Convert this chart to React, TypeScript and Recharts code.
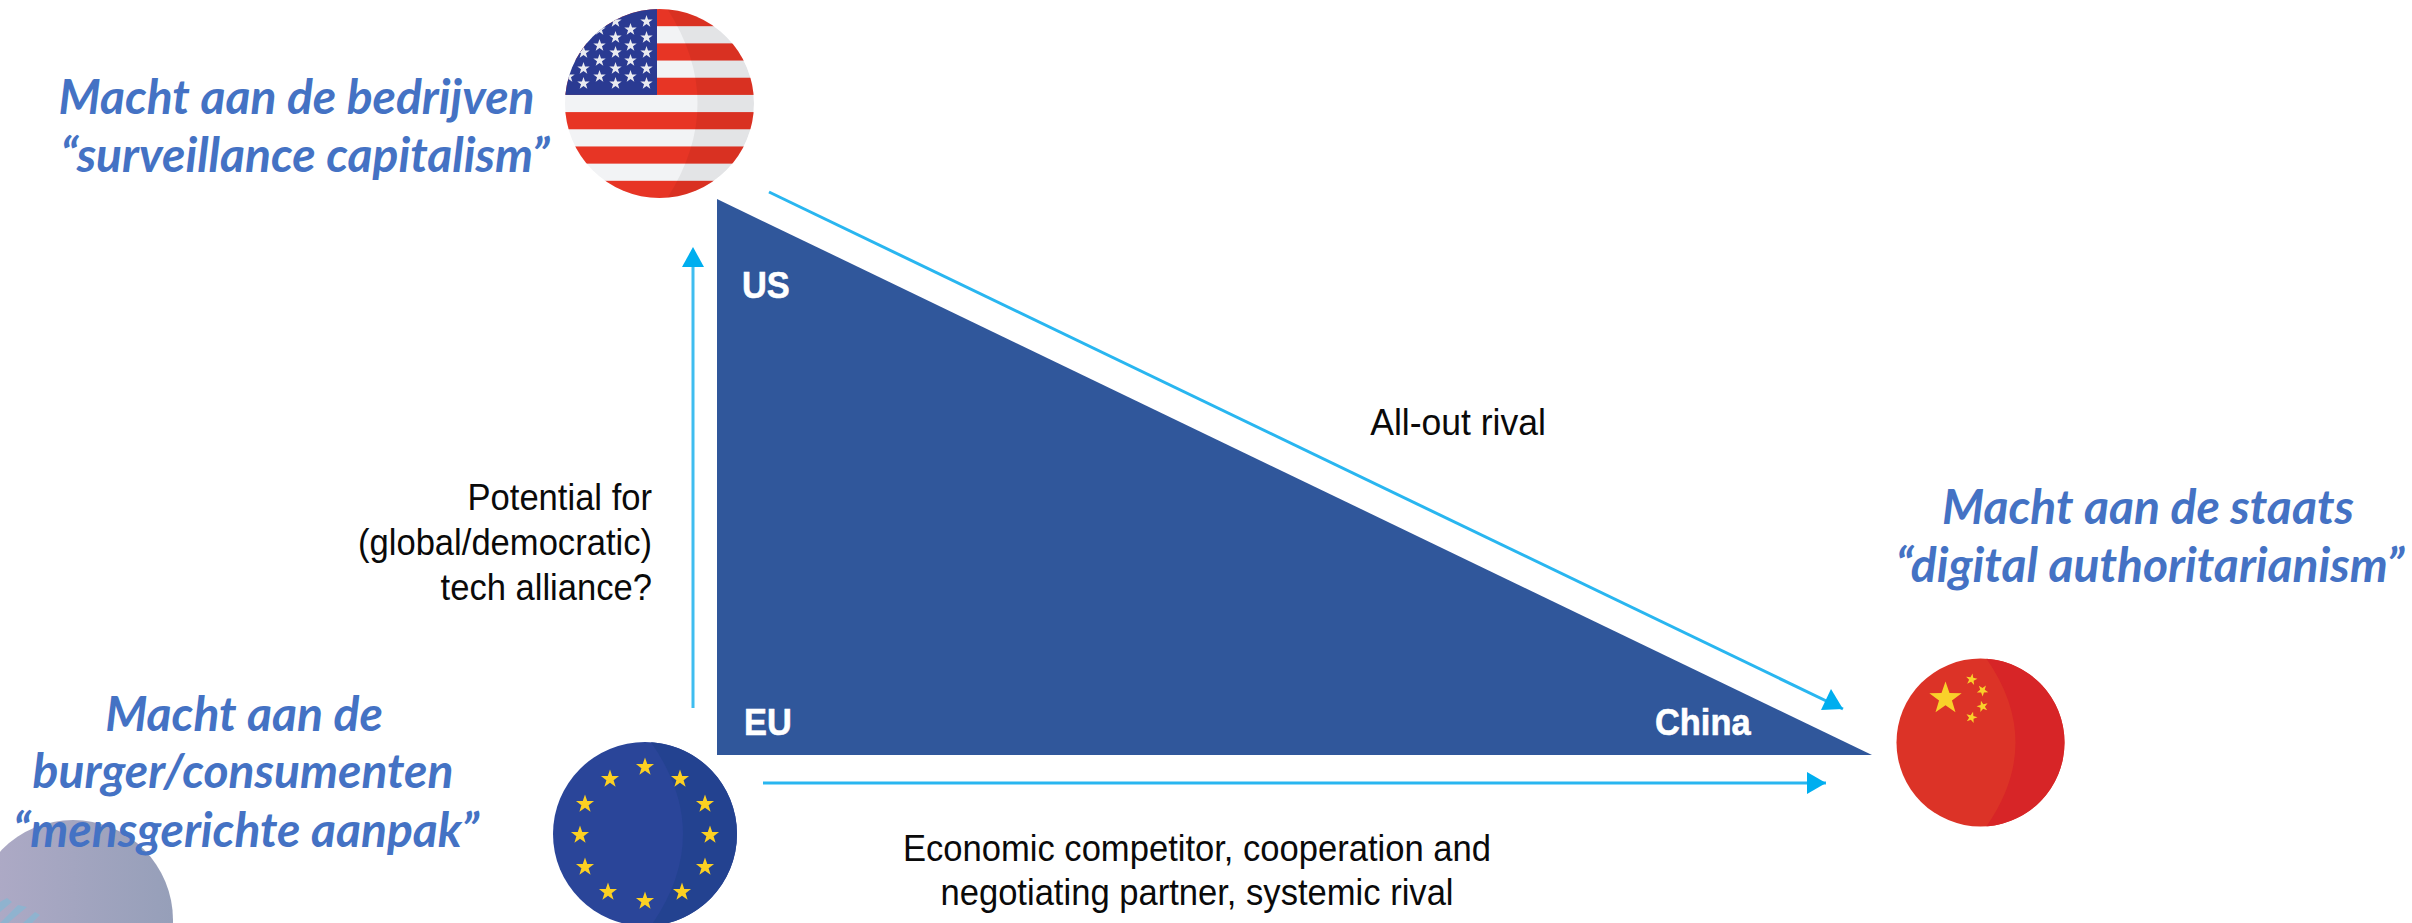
import { ComposedChart, Area, Line, Scatter, XAxis, YAxis } from 'recharts';

const WIDTH = 2412;
const HEIGHT = 923;

// the picture has no real axes, so both scales just run over the picture itself
const triangle = [
  { x: 717, edge: [199, 755] },
  { x: 1872, edge: [755, 755] },
];

const arrowUp = [{ x: 693, y: 708 }, { x: 693, y: 250 }];
const arrowDiagonal = [{ x: 769, y: 192 }, { x: 1843, y: 709 }];
const arrowRight = [{ x: 763, y: 783 }, { x: 1826, y: 783 }];

const usFlag = [{ x: 659.5, y: 103.5 }];
const euFlag = [{ x: 645, y: 834 }];
const cnFlag = [{ x: 1980.5, y: 742.5 }];
const blob = [{ x: 73, y: 920 }];

const blueLabels = [
  { x: 296.5, y: 114, text: 'Macht aan de bedrijven' },
  { x: 305, y: 172, text: '“surveillance capitalism”' },
  { x: 244, y: 731, text: 'Macht aan de' },
  { x: 243, y: 788, text: 'burger/consumenten' },
  { x: 246, y: 847, text: '“mensgerichte aanpak”' },
  { x: 2148, y: 524, text: 'Macht aan de staats' },
  { x: 2150, y: 582, text: '“digital authoritarianism”' },
];

const rivalLabel = [{ x: 1458, y: 435, text: 'All-out rival' }];

const allianceLabels = [
  { x: 652, y: 510, text: 'Potential for' },
  { x: 652, y: 555, text: '(global/democratic)' },
  { x: 652, y: 600, text: 'tech alliance?' },
];

const competitorLabels = [
  { x: 1197, y: 861, text: 'Economic competitor, cooperation and' },
  { x: 1197, y: 905, text: 'negotiating partner, systemic rival' },
];

const whiteLabels = [
  { x: 742, y: 298, text: 'US' },
  { x: 744, y: 735, text: 'EU' },
  { x: 1655, y: 735, text: 'China' },
];

const euStars = [
  [0, -67], [35, -55], [60, -30], [65, 1], [60, 33], [37, 58],
  [0, 67], [-37, 58], [-60, 33], [-65, 1], [-60, -30], [-35, -55],
];
const cnSmallStars = [
  [-9, -63, 10], [2, -52, 35], [2, -36, -15], [-9, -25, 15],
];
const usStarRows = [
  [-82, [-13, -44]],
  [-74, [-29, -60]],
  [-66, [-13, -44]],
  [-58, [-29, -60]],
  [-51, [-13, -44, -76]],
  [-43, [-29, -60]],
  [-35, [-13, -44, -76]],
  [-27, [-29, -60, -91]],
  [-20, [-13, -44, -76]],
] as [number, number[]][];
const usStripes = [0, 2, 4, 6, 8, 10];

function starPath(cx: number, cy: number, r: number, rot = 0) {
  let d = '';
  for (let i = 0; i < 10; i++) {
    const rad = i % 2 === 0 ? r : r * 0.4;
    const a = ((-90 + rot + i * 36) * Math.PI) / 180;
    d += `${i === 0 ? 'M' : 'L'}${cx + rad * Math.cos(a)} ${cy + rad * Math.sin(a)}`;
  }
  return d + 'Z';
}

// darker crescent on the right of each globe
function shadePath(cx: number, cy: number, r: number, top: number, bulge: number) {
  const startX = cx + top;
  const dy = Math.sqrt(r * r - top * top);
  const ctrl = cx + bulge * 2 - top;
  return `M${startX} ${cy - dy}Q${ctrl} ${cy} ${startX} ${cy + dy}A${r} ${r} 0 0 0 ${startX} ${cy - dy}Z`;
}

function UsFlag({ cx, cy }: any) {
  const r = 94.5;
  const stripe = (2 * r) / 11;
  const top = cy - r;
  return (
    <g>
      <clipPath id="usClip"><circle cx={cx} cy={cy} r={r} /></clipPath>
      <g clipPath="url(#usClip)">
        <rect x={cx - r} y={top} width={2 * r} height={2 * r} fill="#f2f3f5" />
        {usStripes.map((s) => (
          <rect key={s} x={cx - r} y={top + s * stripe} width={2 * r} height={stripe} fill="#e73525" />
        ))}
        <rect x={cx - r} y={top} width={r - 2.5} height={5 * stripe} fill="#2a3a92" />
        {usStarRows.map(([dy, cols]) =>
          cols.map((dx) => <path key={`${dy}${dx}`} d={starPath(cx + dx, cy + dy, 6.5)} fill="#e9eaf0" />),
        )}
        <path d={shadePath(cx, cy, r, 8, 38)} fill="#000" fillOpacity={0.06} />
      </g>
    </g>
  );
}

function EuFlag({ cx, cy }: any) {
  const r = 92;
  return (
    <g>
      <circle cx={cx} cy={cy} r={r} fill="#2a4599" />
      <path d={shadePath(cx, cy, r, 6, 38)} fill="#234290" />
      {euStars.map(([dx, dy]) => (
        <path key={`${dx}${dy}`} d={starPath(cx + dx, cy + dy, 9.5)} fill="#fcd022" />
      ))}
    </g>
  );
}

function CnFlag({ cx, cy }: any) {
  const r = 84;
  return (
    <g>
      <circle cx={cx} cy={cy} r={r} fill="#dc3327" />
      <path d={shadePath(cx, cy, r, 6, 35)} fill="#d72527" />
      <path d={starPath(cx - 35, cy - 44, 17)} fill="#f9d02a" />
      {cnSmallStars.map(([dx, dy, rot]) => (
        <path key={`${dx}${dy}`} d={starPath(cx + dx, cy + dy, 6, rot)} fill="#f9d02a" />
      ))}
    </g>
  );
}

function Blob({ cx, cy }: any) {
  return (
    <g>
      <defs>
        <linearGradient id="blobFill" x1="0" y1="0" x2="1" y2="0">
          <stop offset="0%" stopColor="#b0abc7" />
          <stop offset="100%" stopColor="#969fb9" />
        </linearGradient>
      </defs>
      <circle cx={cx} cy={cy} r={100} fill="url(#blobFill)" />
      <path d="M0 902L7 898L12 902L0 912Z" fill="#8fb3cf" />
      <path d="M0 923L18 905L27 907L8 923Z" fill="#8fb3cf" />
      <path d="M23 923L35 912L40 915L32 923Z" fill="#8fb3cf" />
    </g>
  );
}

// squeeze narrows the text, the original uses a tighter grotesque than Liberation
function TextMark({ cx, cy, payload, style, squeeze = 1 }: any) {
  return (
    <text transform={`translate(${cx} ${cy}) scale(${squeeze} 1)`} {...style}>
      {payload.text}
    </text>
  );
}

const blueStyle = {
  fontFamily: 'Lato, sans-serif',
  fontStyle: 'italic',
  fontWeight: 700,
  fontSize: 48,
  fill: '#4472c4',
  textAnchor: 'middle',
};

const darkStyle = {
  fontFamily: '"Liberation Sans", Arial, sans-serif',
  fontSize: 37,
  fill: '#0a0a0a',
};

const whiteStyle = {
  fontFamily: '"Liberation Sans", Arial, sans-serif',
  fontWeight: 700,
  fontSize: 37,
  fill: '#fff',
  stroke: '#fff',
  strokeWidth: 0.6,
};

function HeadUp({ cx, cy, index }: any) {
  if (index !== 1) return <g key={index} />;
  return <path key={index} d={`M${cx} ${cy - 3}L${cx + 11} ${cy + 17}L${cx - 11} ${cy + 17}Z`} fill="#00aeef" />;
}

function HeadDiagonal({ cx, cy, index }: any) {
  if (index !== 1) return <g key={index} />;
  return <path key={index} d={`M${cx} ${cy}L${cx - 22} ${cy + 1}L${cx - 12} ${cy - 20}Z`} fill="#00aeef" />;
}

function HeadRight({ cx, cy, index }: any) {
  if (index !== 1) return <g key={index} />;
  return <path key={index} d={`M${cx} ${cy}L${cx - 19} ${cy - 11}L${cx - 19} ${cy + 11}Z`} fill="#00aeef" />;
}

export default function App() {
  return (
    <div style={{ position: 'absolute', left: 0, top: 0, width: WIDTH, height: HEIGHT, overflow: 'hidden', background: '#fff' }}>
      <ComposedChart width={WIDTH} height={HEIGHT} margin={{ top: 0, right: 0, bottom: 0, left: 0 }}>
        <XAxis type="number" dataKey="x" domain={[0, WIDTH]} hide allowDataOverflow />
        <YAxis type="number" domain={[0, HEIGHT]} reversed hide allowDataOverflow />
        <Scatter data={blob} dataKey="y" isAnimationActive={false} shape={<Blob />} />
        <Area
          data={triangle}
          dataKey="edge"
          type="linear"
          fill="#30579b"
          fillOpacity={1}
          stroke="none"
          dot={false}
          activeDot={false}
          isAnimationActive={false}
        />
        <Line data={arrowUp} dataKey="y" type="linear" stroke="#3fbdf0" strokeWidth={3} dot={<HeadUp />} activeDot={false} isAnimationActive={false} />
        <Line data={arrowDiagonal} dataKey="y" type="linear" stroke="#29b6f0" strokeWidth={3} dot={<HeadDiagonal />} activeDot={false} isAnimationActive={false} />
        <Line data={arrowRight} dataKey="y" type="linear" stroke="#29b6f0" strokeWidth={3} dot={<HeadRight />} activeDot={false} isAnimationActive={false} />
        <Scatter data={usFlag} dataKey="y" isAnimationActive={false} shape={<UsFlag />} />
        <Scatter data={euFlag} dataKey="y" isAnimationActive={false} shape={<EuFlag />} />
        <Scatter data={cnFlag} dataKey="y" isAnimationActive={false} shape={<CnFlag />} />
        <Scatter data={blueLabels} dataKey="y" isAnimationActive={false} shape={(p: any) => <TextMark {...p} style={blueStyle} />} />
        <Scatter data={rivalLabel} dataKey="y" isAnimationActive={false} shape={(p: any) => <TextMark {...p} squeeze={0.96} style={{ ...darkStyle, textAnchor: 'middle' }} />} />
        <Scatter data={allianceLabels} dataKey="y" isAnimationActive={false} shape={(p: any) => <TextMark {...p} squeeze={0.935} style={{ ...darkStyle, textAnchor: 'end' }} />} />
        <Scatter data={competitorLabels} dataKey="y" isAnimationActive={false} shape={(p: any) => <TextMark {...p} squeeze={0.935} style={{ ...darkStyle, textAnchor: 'middle' }} />} />
        <Scatter data={whiteLabels} dataKey="y" isAnimationActive={false} shape={(p: any) => <TextMark {...p} squeeze={0.93} style={whiteStyle} />} />
      </ComposedChart>
    </div>
  );
}
